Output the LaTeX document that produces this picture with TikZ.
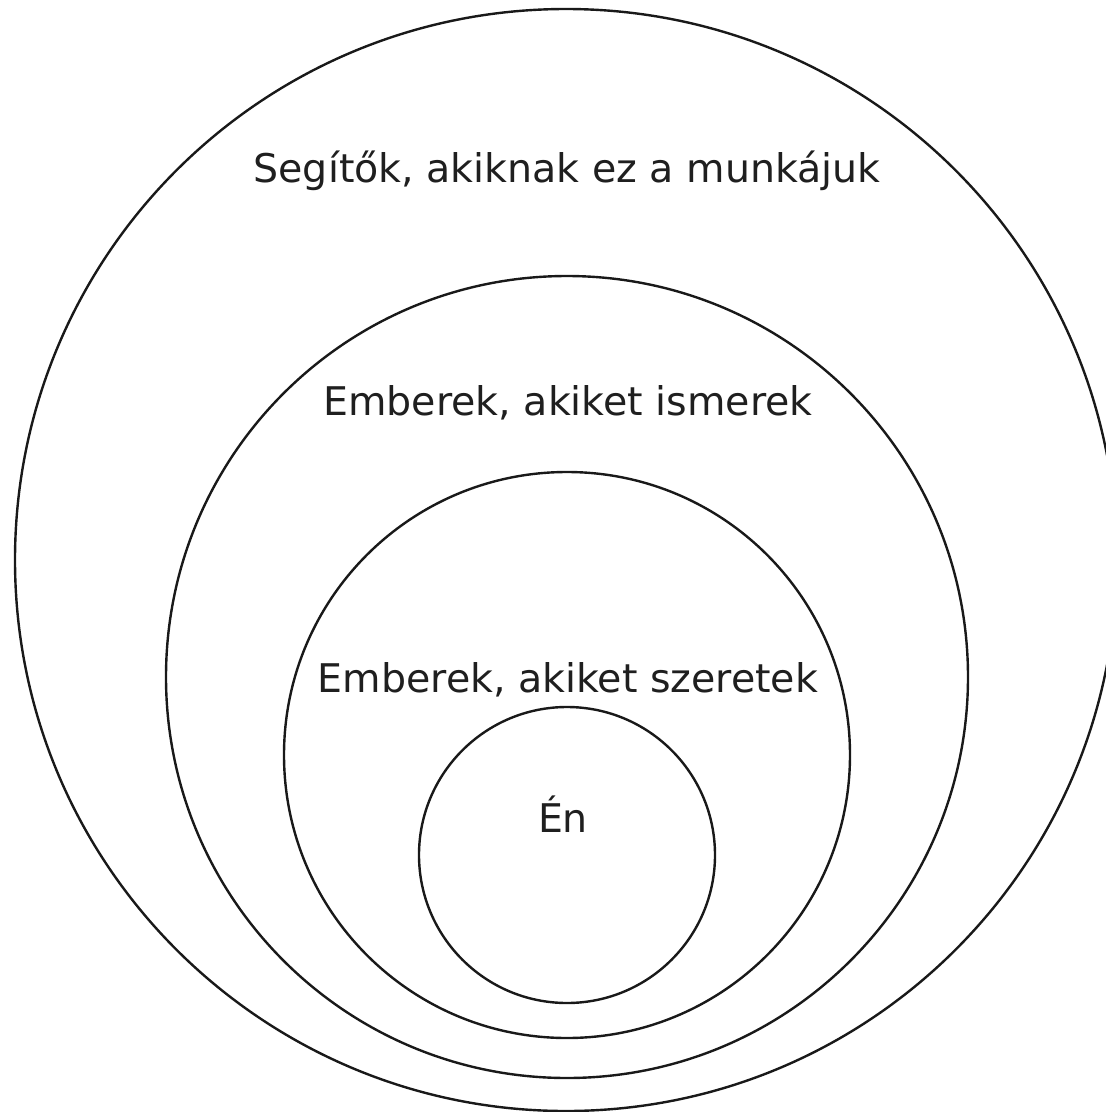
\documentclass[tikz,border=0pt]{standalone}
\usepackage{fontspec}
\setmainfont{DejaVu Sans}
\begin{document}
\begin{tikzpicture}[x=1pt,y=-1pt,
  ring/.style={draw=black!90, line width=2.4pt, circle, inner sep=0pt},
  lbl/.style={anchor=base, inner sep=0pt, text=black!88, font=\fontsize{39.5}{47}\selectfont}]
\useasboundingbox (0,0) rectangle (1106,1112);
\begin{scope}
\clip (0,0) rectangle (1106,1112);
\node[ring, minimum size=1102pt] (outer) at (566,560) {};
\node[ring, minimum size=802pt] (known) at (567,677) {};
\node[ring, minimum size=566pt] (loved) at (567,755) {};
\node[ring, minimum size=296pt] (me) at (567,855) {};
\end{scope}
\node[lbl] (t1) at (567,182) {Segítők, akiknak ez a munkájuk};
\node[lbl] (t2) at (568,415) {Emberek, akiket ismerek};
\node[lbl] (t3) at (568,692) {Emberek, akiket szeretek};
\node[lbl] (t4) at (563,832) {Én};
\end{tikzpicture}
\end{document}
